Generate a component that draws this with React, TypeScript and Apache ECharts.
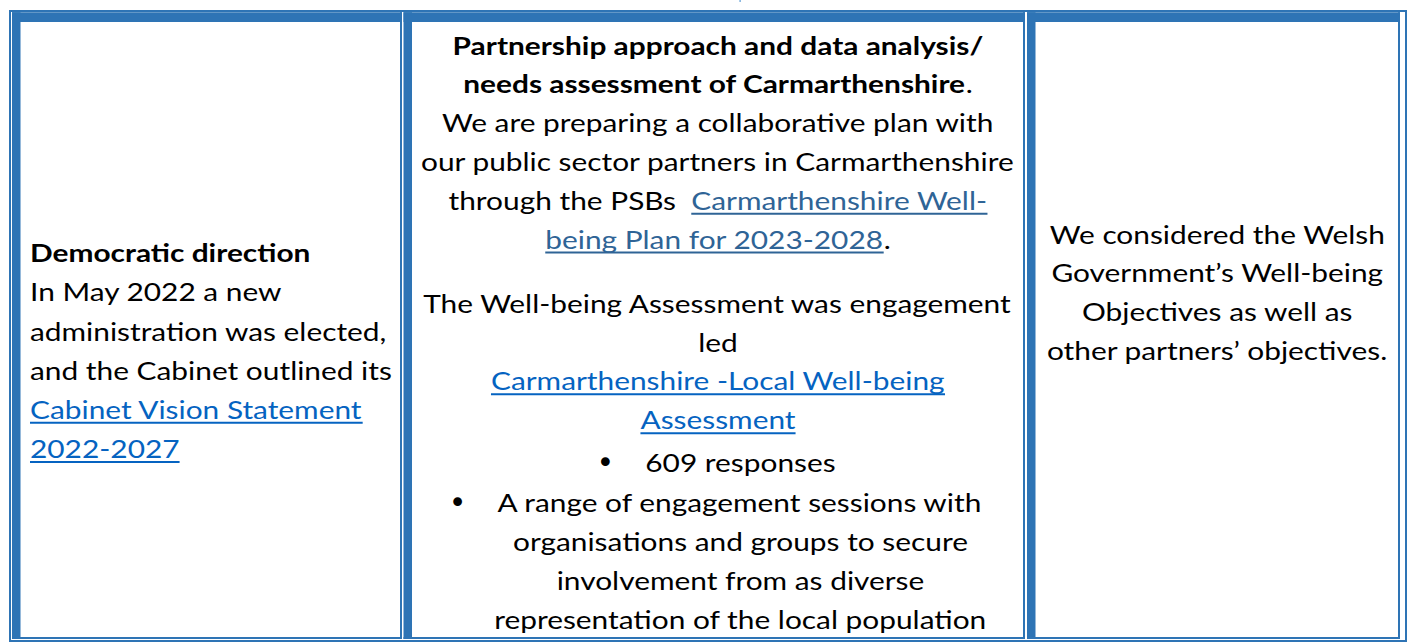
import React, { useEffect, useRef } from "react";
import * as echarts from "echarts";

type Seg = { t: string; b?: boolean; link?: 1 | 2 };

// ---------- content ----------
const leftLines: Seg[][] = [
  [{ t: "Democratic direction", b: true }],
  [{ t: "In May 2022 a new" }],
  [{ t: "administration was elected," }],
  [{ t: "and the Cabinet outlined its" }],
  [{ t: "Cabinet Vision Statement", link: 2 }],
  [{ t: "2022-2027", link: 2 }],
];

const middleIntro: Seg[][] = [
  [{ t: "Partnership approach and data analysis/", b: true }],
  [{ t: "needs assessment of Carmarthenshire", b: true }, { t: "." }],
  [{ t: "We are preparing a collaborative plan with" }],
  [{ t: "our public sector partners in Carmarthenshire" }],
  [{ t: "through the PSBs  " }, { t: "Carmarthenshire Well-", link: 1 }],
  [{ t: "being Plan for 2023-2028", link: 1 }, { t: "." }],
];

const middleAssessment: Seg[][] = [
  [{ t: "The Well-being Assessment was engagement" }],
  [{ t: "led" }],
  [{ t: "Carmarthenshire -Local Well-being", link: 2 }],
  [{ t: "Assessment", link: 2 }],
];

const bulletItems: string[][] = [
  ["609 responses"],
  [
    "A range of engagement sessions with",
    "organisations and groups to secure",
    "involvement from as diverse",
    "representation of the local population",
  ],
];

const rightLines: Seg[][] = [
  [{ t: "We considered the Welsh" }],
  [{ t: "Government\u2019s Well-being" }],
  [{ t: "Objectives as well as" }],
  [{ t: "other partners\u2019 objectives." }],
];

// ---------- styles ----------
const BORDER = "#2E74B5";
const TEXT = "#000000";
const LINK_COLORS: Record<number, string> = { 1: "#2F6496", 2: "#0563C1" };
const FAMILY = "Lato";
const FS = 25.5;
const REF_LINE = "our public sector partners in Carmarthenshire";
const REF_WIDTH = 594;

function App() {
  const ref = useRef<HTMLDivElement>(null);

  useEffect(() => {
    if (!ref.current) return;
    const chart = echarts.init(ref.current, undefined, { renderer: "svg" });

    const ctx = document.createElement("canvas").getContext("2d")!;
    const measure = (t: string, bold?: boolean) => {
      ctx.font = `${bold ? "bold" : "normal"} ${FS}px ${FAMILY}`;
      return ctx.measureText(t).width;
    };
    const f = REF_WIDTH / measure(REF_LINE);

    const elements: any[] = [];

    // background
    elements.push({
      type: "rect",
      shape: { x: 0, y: 0, width: 1407, height: 643 },
      style: { fill: "#ffffff" },
      silent: true,
    });

    // outer thin frame
    elements.push({
      type: "rect",
      shape: { x: 10, y: 11, width: 1396, height: 630 },
      style: { fill: "none", stroke: BORDER, lineWidth: 2 },
    });
    // small mark at top
    elements.push({
      type: "rect",
      shape: { x: 739.5, y: 0, width: 1.2, height: 2 },
      style: { fill: "#5B9BD5" },
    });

    // cells
    const cells = [
      [12, 402],
      [403.5, 1025],
      [1027, 1400],
    ];
    const y0 = 12.3;
    const y1 = 639;
    cells.forEach(([x0, x1]) => {
      elements.push({ type: "rect", shape: { x: x0, y: y0, width: x1 - x0, height: 9.6 }, style: { fill: BORDER } });
      elements.push({ type: "rect", shape: { x: x0, y: y0, width: 8.5, height: y1 - y0 }, style: { fill: BORDER } });
      elements.push({ type: "rect", shape: { x: x1 - 2, y: y0, width: 2, height: y1 - y0 }, style: { fill: BORDER } });
      elements.push({ type: "rect", shape: { x: x0, y: y1 - 2, width: x1 - x0, height: 2 }, style: { fill: BORDER } });
    });

    // text line drawing
    const drawLine = (segs: Seg[], cy: number, opts: { left?: number; center?: number }) => {
      const widths = segs.map((s) => measure(s.t, s.b));
      const total = widths.reduce((a, b) => a + b, 0);
      const start = opts.left !== undefined ? opts.left : (opts.center as number) - (total * f) / 2;
      const children: any[] = [];
      let off = 0;
      segs.forEach((s, i) => {
        const color = s.link ? LINK_COLORS[s.link] : TEXT;
        children.push({
          type: "text",
          x: off,
          y: 0,
          style: {
            text: s.t,
            fill: color,
            fontFamily: FAMILY,
            fontSize: FS,
            fontWeight: s.b ? "bold" : "normal",
            align: "left",
            verticalAlign: "middle",
          },
        });
        if (s.link) {
          const trimmed = s.t.replace(/\s+$/, "");
          const lead = s.t.length - s.t.replace(/^\s+/, "").length;
          const leadW = lead ? measure(s.t.slice(0, lead), s.b) : 0;
          const w = measure(trimmed, s.b) - leadW;
          elements.push({
            type: "rect",
            shape: { x: start + (off + leadW) * f, y: cy + 12.5, width: w * f, height: 2 },
            style: { fill: color },
          });
        }
        off += widths[i];
      });
      elements.push({ type: "group", x: start, y: cy, scaleX: f, children });
      return start;
    };

    // left cell
    leftLines.forEach((segs, i) => drawLine(segs, 252.5 + 39.2 * i, { left: 30 }));

    // middle cell
    const MID = 718;
    middleIntro.forEach((segs, i) => drawLine(segs, 45 + 38.8 * i, { center: MID }));
    middleAssessment.forEach((segs, i) => drawLine(segs, 303 + 38.9 * i, { center: MID }));

    const BULLET_CENTER = 740.5;
    const bulletYs = [[462], [502, 541, 580, 619]];
    bulletItems.forEach((lines, bi) => {
      lines.forEach((ln, li) => {
        const cy = bulletYs[bi][li];
        const start = drawLine([{ t: ln }], cy, { center: BULLET_CENTER });
        if (li === 0) {
          elements.push({
            type: "text",
            x: start - 40,
            y: cy,
            style: {
              text: "\u2022",
              fill: TEXT,
              fontFamily: "DejaVu Sans",
              fontSize: 30,
              align: "center",
              verticalAlign: "middle",
            },
          });
        }
      });
    });

    // right cell
    rightLines.forEach((segs, i) => drawLine(segs, 234 + 38.7 * i, { center: 1217.5 }));

    chart.setOption({
      animation: false,
      backgroundColor: "#ffffff",
      graphic: { elements },
    });

    return () => chart.dispose();
  }, []);

  return (
    <div
      ref={ref}
      style={{ position: "fixed", left: 0, top: 0, width: 1407, height: 643, background: "#fff" }}
    />
  );
}

export default App;
